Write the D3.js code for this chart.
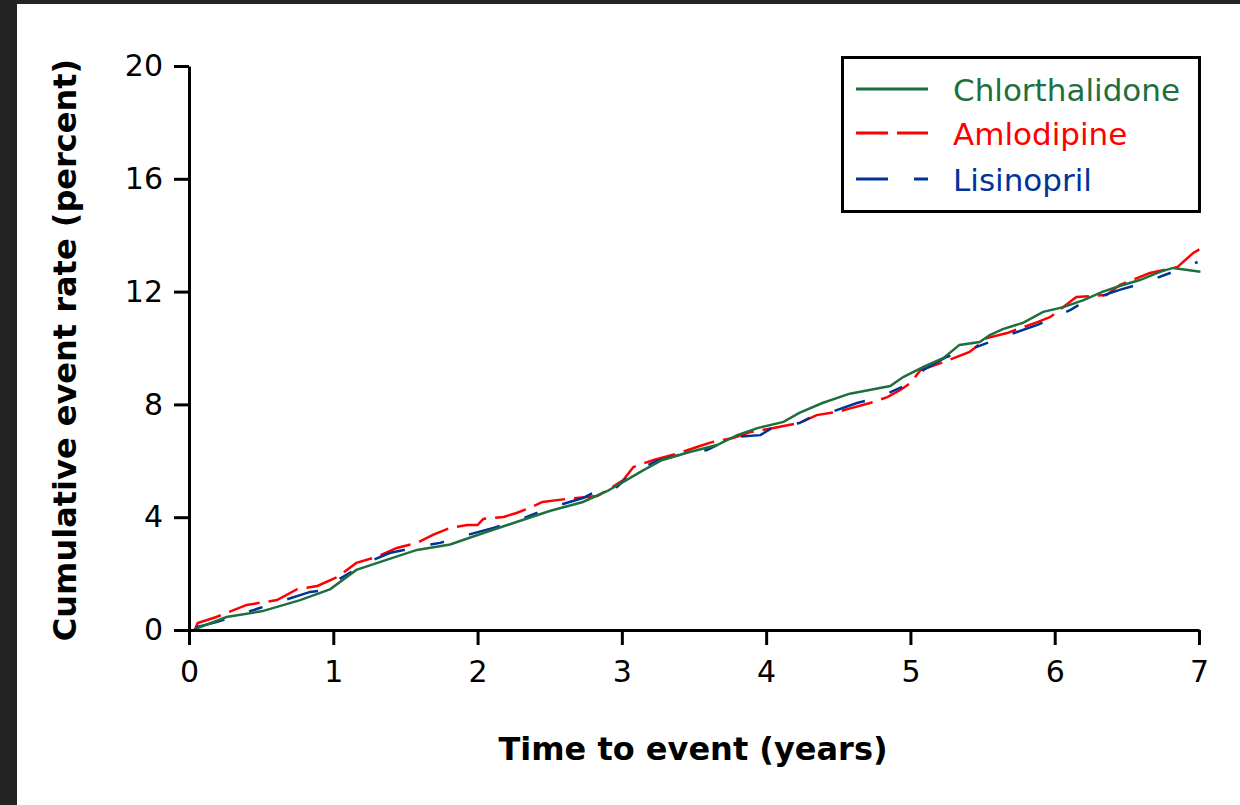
<!DOCTYPE html>
<html>
<head>
<meta charset="utf-8">
<script src="https://cdn.jsdelivr.net/npm/d3@7"></script>
<style>
    body { margin: 0; background: #ffffff; }
    svg { display: block; }
</style>
</head>
<body>
<script>
// cumulative event rate (percent), as [years, percent]
var chlorthalidone = [
    [0.04, 0], [0.06, 0.07], [0.26, 0.46], [0.51, 0.67], [0.77, 1.06], [0.98, 1.45],
    [1.16, 2.13], [1.39, 2.52], [1.58, 2.84], [1.81, 3.03], [2.04, 3.44], [2.27, 3.83],
    [2.50, 4.22], [2.73, 4.54], [2.90, 4.93], [3.01, 5.25], [3.15, 5.67], [3.28, 6.03],
    [3.47, 6.31], [3.66, 6.56], [3.80, 6.91], [3.94, 7.16], [4.12, 7.38], [4.23, 7.70],
    [4.39, 8.05], [4.58, 8.38], [4.86, 8.65], [4.95, 8.97], [5.09, 9.33], [5.23, 9.65],
    [5.34, 10.11], [5.48, 10.21], [5.55, 10.46], [5.64, 10.67], [5.78, 10.89], [5.92, 11.28],
    [6.06, 11.45], [6.20, 11.70], [6.33, 11.99], [6.45, 12.20], [6.59, 12.41], [6.73, 12.70],
    [6.82, 12.84], [7.01, 12.70]
];

var amlodipine = [
    [0.04, 0], [0.06, 0.25], [0.19, 0.46], [0.40, 0.89], [0.61, 1.06], [0.75, 1.45],
    [0.89, 1.56], [1.03, 1.88], [1.16, 2.38], [1.30, 2.59], [1.44, 2.91], [1.58, 3.09],
    [1.69, 3.37], [1.81, 3.62], [1.93, 3.72], [2.00, 3.72], [2.04, 3.94], [2.18, 4.01],
    [2.27, 4.15], [2.36, 4.33], [2.45, 4.54], [2.62, 4.65], [2.83, 4.75], [2.90, 4.96],
    [3.01, 5.32], [3.08, 5.78], [3.22, 6.03], [3.40, 6.28], [3.52, 6.49], [3.63, 6.67],
    [3.77, 6.81], [3.89, 7.02], [4.05, 7.16], [4.23, 7.34], [4.35, 7.62], [4.49, 7.73],
    [4.57, 7.84], [4.72, 8.05], [4.84, 8.26], [4.93, 8.51], [5.00, 8.76], [5.07, 9.22],
    [5.23, 9.50], [5.41, 9.86], [5.53, 10.35], [5.67, 10.53], [5.88, 10.92], [5.97, 11.10],
    [6.15, 11.81], [6.36, 11.88], [6.45, 12.23], [6.66, 12.66], [6.85, 12.87], [6.96, 13.37],
    [7.02, 13.55]
];

var lisinopril = [
    [0.04, 0], [0.06, 0.11], [0.19, 0.28], [0.49, 0.78], [0.84, 1.35], [0.96, 1.42],
    [1.03, 1.77], [1.23, 2.38], [1.39, 2.73], [1.62, 2.98], [1.74, 3.09], [1.95, 3.40],
    [2.11, 3.62], [2.34, 4.01], [2.50, 4.33], [2.73, 4.68], [2.80, 4.86], [2.92, 4.86],
    [3.08, 5.60], [3.24, 5.99], [3.42, 6.24], [3.59, 6.38], [3.77, 6.84], [3.96, 6.91],
    [4.03, 7.13], [4.23, 7.34], [4.30, 7.52], [4.39, 7.62], [4.63, 8.05], [4.79, 8.26],
    [5.00, 8.76], [5.09, 9.22], [5.25, 9.68], [5.46, 10.04], [5.64, 10.39], [5.88, 10.82],
    [6.11, 11.35], [6.20, 11.63], [6.45, 12.06], [6.61, 12.30], [6.82, 12.70], [6.99, 13.05]
];

var seriesNames = ["Chlorthalidone", "Amlodipine", "Lisinopril"];
var xTicks = [0, 1, 2, 3, 4, 5, 6, 7];
var yTicks = [0, 4, 8, 12, 16, 20];

(function () {
    var width = 1240;
    var height = 805;

    var left = 189, right = 1199, top = 66, bottom = 630;
    var font = "'DejaVu Sans', Verdana, sans-serif";

    var styles = {
        "Chlorthalidone": { color: "#1d703d", dash: null },
        "Amlodipine": { color: "#ff0000", dash: "32,9" },
        "Lisinopril": { color: "#003399", dash: "32,26,14,26" }
    };
    var dataByName = {
        "Chlorthalidone": chlorthalidone,
        "Amlodipine": amlodipine,
        "Lisinopril": lisinopril
    };

    var svg = d3.select("body").append("svg")
        .attr("width", width)
        .attr("height", height);

    // dark frame at top and left like the screenshot
    svg.append("rect").attr("x", 0).attr("y", 0).attr("width", width).attr("height", 4).attr("fill", "#232323");
    svg.append("rect").attr("x", 0).attr("y", 0).attr("width", 17).attr("height", height).attr("fill", "#232323");

    var xScale = d3.scaleLinear().domain([0, 7]).range([left, right]);
    var yScale = d3.scaleLinear().domain([0, 20]).range([bottom, top]);

    var line = d3.line()
        .x(function (d) { return xScale(d[0]); })
        .y(function (d) { return yScale(d[1]); });

    // draw order: red, blue, then green on top
    ["Amlodipine", "Lisinopril", "Chlorthalidone"].forEach(function (name) {
        svg.append("path")
            .datum(dataByName[name])
            .attr("d", line)
            .attr("fill", "none")
            .attr("stroke", styles[name].color)
            .attr("stroke-width", 2.5)
            .attr("stroke-dasharray", styles[name].dash);
    });

    var xAxis = d3.axisBottom(xScale)
        .tickValues(xTicks)
        .tickSize(15)
        .tickSizeOuter(0)
        .tickPadding(16)
        .tickFormat(d3.format("d"));

    var yAxis = d3.axisLeft(yScale)
        .tickValues(yTicks)
        .tickSize(15)
        .tickSizeOuter(0)
        .tickPadding(11)
        .tickFormat(d3.format("d"));

    var gx = svg.append("g")
        .attr("transform", "translate(0," + bottom + ")")
        .call(xAxis);
    var gy = svg.append("g")
        .attr("transform", "translate(" + left + ",0)")
        .call(yAxis);

    [gx, gy].forEach(function (g) {
        g.selectAll("path, line").attr("stroke", "#000").attr("stroke-width", 3);
        g.selectAll("text")
            .attr("font-family", font)
            .attr("font-size", "30px")
            .attr("fill", "#000");
    });

    svg.append("text")
        .attr("x", (left + right) / 2 - 1)
        .attr("y", 760)
        .attr("text-anchor", "middle")
        .attr("font-family", font)
        .attr("font-weight", "bold")
        .attr("font-size", "32px")
        .text("Time to event (years)");

    svg.append("text")
        .attr("transform", "translate(76,350) rotate(-90)")
        .attr("text-anchor", "middle")
        .attr("font-family", font)
        .attr("font-weight", "bold")
        .attr("font-size", "32px")
        .text("Cumulative event rate (percent)");

    // legend
    var legend = svg.append("g");
    legend.append("rect")
        .attr("x", 842.5)
        .attr("y", 57.5)
        .attr("width", 357)
        .attr("height", 154)
        .attr("fill", "#fff")
        .attr("stroke", "#000")
        .attr("stroke-width", 3);

    var rowY = [89, 133, 179];
    seriesNames.forEach(function (name, i) {
        legend.append("line")
            .attr("x1", 856)
            .attr("x2", 928)
            .attr("y1", rowY[i])
            .attr("y2", rowY[i])
            .attr("stroke", styles[name].color)
            .attr("stroke-width", 3)
            .attr("stroke-dasharray", styles[name].dash);
        legend.append("text")
            .attr("x", 953)
            .attr("y", rowY[i] + 11.5)
            .attr("font-family", font)
            .attr("font-size", "31px")
            .attr("fill", styles[name].color)
            .text(name);
    });
})();
</script>
</body>
</html>
